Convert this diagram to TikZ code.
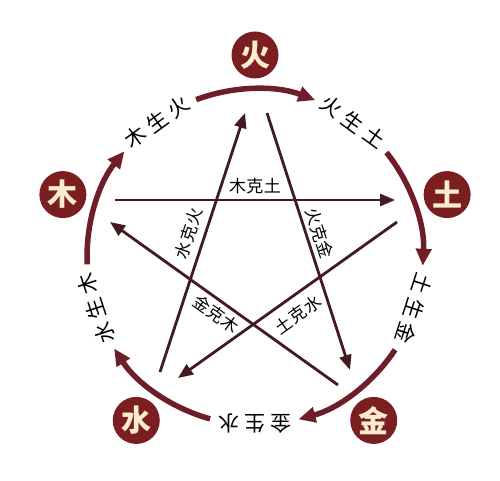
\documentclass[tikz,border=0pt]{standalone}
\usepackage{fontspec}
\newfontfamily\cjk{Noto Sans CJK SC}
\usetikzlibrary{arrows.meta}
\definecolor{arcred}{RGB}{110,30,40}
\definecolor{starline}{RGB}{66,26,32}
\definecolor{elemfill}{RGB}{122,30,34}
\definecolor{elemtext}{RGB}{250,236,205}
\newcommand\sgap{\hspace{5pt}}
\newcommand\kgap{\hspace{0.5pt}}
\begin{document}
\begin{tikzpicture}[x=1pt,y=1pt,
  elem/.style={circle, fill=elemfill, minimum size=47pt, inner sep=0pt, text=elemtext,
    font=\cjk\bfseries\fontsize{30}{30}\selectfont},
  shengarc/.style={draw=arcred, line width=5.5pt, -{Triangle[length=17pt,width=15pt]}},
  kearrow/.style={draw=starline, line width=2.8pt, -{Triangle[length=15pt,width=12pt]}},
  shenglabel/.style={font=\cjk\fontsize{21}{21}\selectfont, text=black, inner sep=0pt},
  kelabel/.style={font=\cjk\fontsize{17}{17}\selectfont, text=black, inner sep=0pt}]
\useasboundingbox (0,0) rectangle (500,480);
\fill[white] (0,0) rectangle (500,480);
\coordinate (C) at (255,223);
% sheng arcs
\foreach \ang in {90,18,-54,-126,162}
  \draw[shengarc] ([shift={(\ang+20.5:168)}]C) arc[start angle=\ang+20.5, end angle=\ang-21, radius=168];
% sheng labels
\foreach \ang/\txt in {90/火\sgap 生\sgap 土, 18/土\sgap 生\sgap 金, -54/金\sgap 生\sgap 水, -126/水\sgap 生\sgap 木, 162/木\sgap 生\sgap 火}
  \node[shenglabel, rotate=\ang-126] (sl\ang) at ([shift={(\ang-36:167)}]C) {\txt};
% ke star
\coordinate (ka1) at (115,280); \coordinate (ka2) at (395,280);
\coordinate (kb1) at (397,258); \coordinate (kb2) at (178,102);
\coordinate (kc1) at (160,108); \coordinate (kc2) at (245,367);
\coordinate (kd1) at (267,367); \coordinate (kd2) at (350,110);
\coordinate (ke1) at (338,95);  \coordinate (ke2) at (110,258);
\draw[kearrow] (ka1) -- (ka2);
\draw[kearrow] (kb1) -- (kb2);
\draw[kearrow] (kc1) -- (kc2);
\draw[kearrow] (kd1) -- (kd2);
\draw[kearrow] (ke1) -- (ke2);
\path (ka1) -- (ka2) node[kelabel, midway, above=6pt] (kla) {木\kgap 克\kgap 土};
\path (kb2) -- (kb1) node[kelabel, midway, sloped, below=10pt] (klb) {土\kgap 克\kgap 水};
\path (kc1) -- (kc2) node[kelabel, pos=0.516, sloped, above=8pt] (klc) {水\kgap 克\kgap 火};
\path (kd1) -- (kd2) node[kelabel, pos=0.483, sloped, above=5pt] (kld) {火\kgap 克\kgap 金};
\path (ke2) -- (ke1) node[kelabel, midway, sloped, below=5pt] (kle) {金\kgap 克\kgap 木};
% elements
\foreach \ang/\name/\txt in {90/huo/火,18/tu/土,-54/jin/金,-126/shui/水,162/mu/木}
  \node[elem] (\name) at ([shift={(\ang:202)}]C) {\txt};
\end{tikzpicture}
\end{document}
